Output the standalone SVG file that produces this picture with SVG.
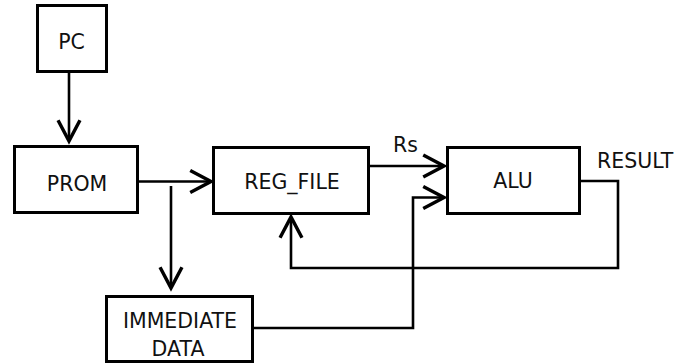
<svg xmlns="http://www.w3.org/2000/svg" width="678" height="364" viewBox="0 0 678 364">
<style>
.box{fill:#fff;stroke:#000;stroke-width:3}
.ln{fill:none;stroke:#000;stroke-width:2.6}
text{font-family:"DejaVu Sans","Liberation Sans",sans-serif;font-size:20.5px;fill:#111}
.c{text-anchor:middle}
</style>
<defs>
<marker id="ah" markerUnits="userSpaceOnUse" markerWidth="30" markerHeight="30" viewBox="-22 -12 26 24" refX="0" refY="0" orient="auto">
<path d="M-18,-9.5 L0,0 L-18,9.5" fill="none" stroke="#000" stroke-width="3"/>
</marker>
</defs>
<rect width="678" height="364" fill="#fff"/>
<g id="connectors">
<path class="ln" d="M69,72 V141" marker-end="url(#ah)"/>
<path class="ln" d="M138,181.5 H211" marker-end="url(#ah)"/>
<path class="ln" d="M171,186 V288" marker-end="url(#ah)"/>
<path class="ln" d="M369,166 H444" marker-end="url(#ah)"/>
<path class="ln" d="M253,328 H413 V197.5 H444" marker-end="url(#ah)"/>
<path class="ln" d="M580,181 H618 V268 H291 V217" marker-end="url(#ah)"/>
</g>
<g id="pc">
<rect class="box" x="37.5" y="5.5" width="69" height="66"/>
<text class="c" x="71.5" y="49">PC</text>
</g>
<g id="prom">
<rect class="box" x="14.5" y="146.5" width="123" height="66"/>
<text class="c" x="77" y="191">PROM</text>
</g>
<g id="reg_file">
<rect class="box" x="213.5" y="147.5" width="155" height="66"/>
<text class="c" x="292" y="189">REG_FILE</text>
</g>
<g id="alu">
<rect class="box" x="447.5" y="147.5" width="132" height="66"/>
<text class="c" x="513" y="188">ALU</text>
</g>
<g id="immediate">
<rect class="box" x="106.5" y="296.5" width="146" height="65"/>
<text class="c" x="180" y="328">IMMEDIATE</text>
<text class="c" x="178" y="356">DATA</text>
</g>
<g id="labels">
<text x="393" y="152">Rs</text>
<text x="597" y="168">RESULT</text>
</g>
</svg>
